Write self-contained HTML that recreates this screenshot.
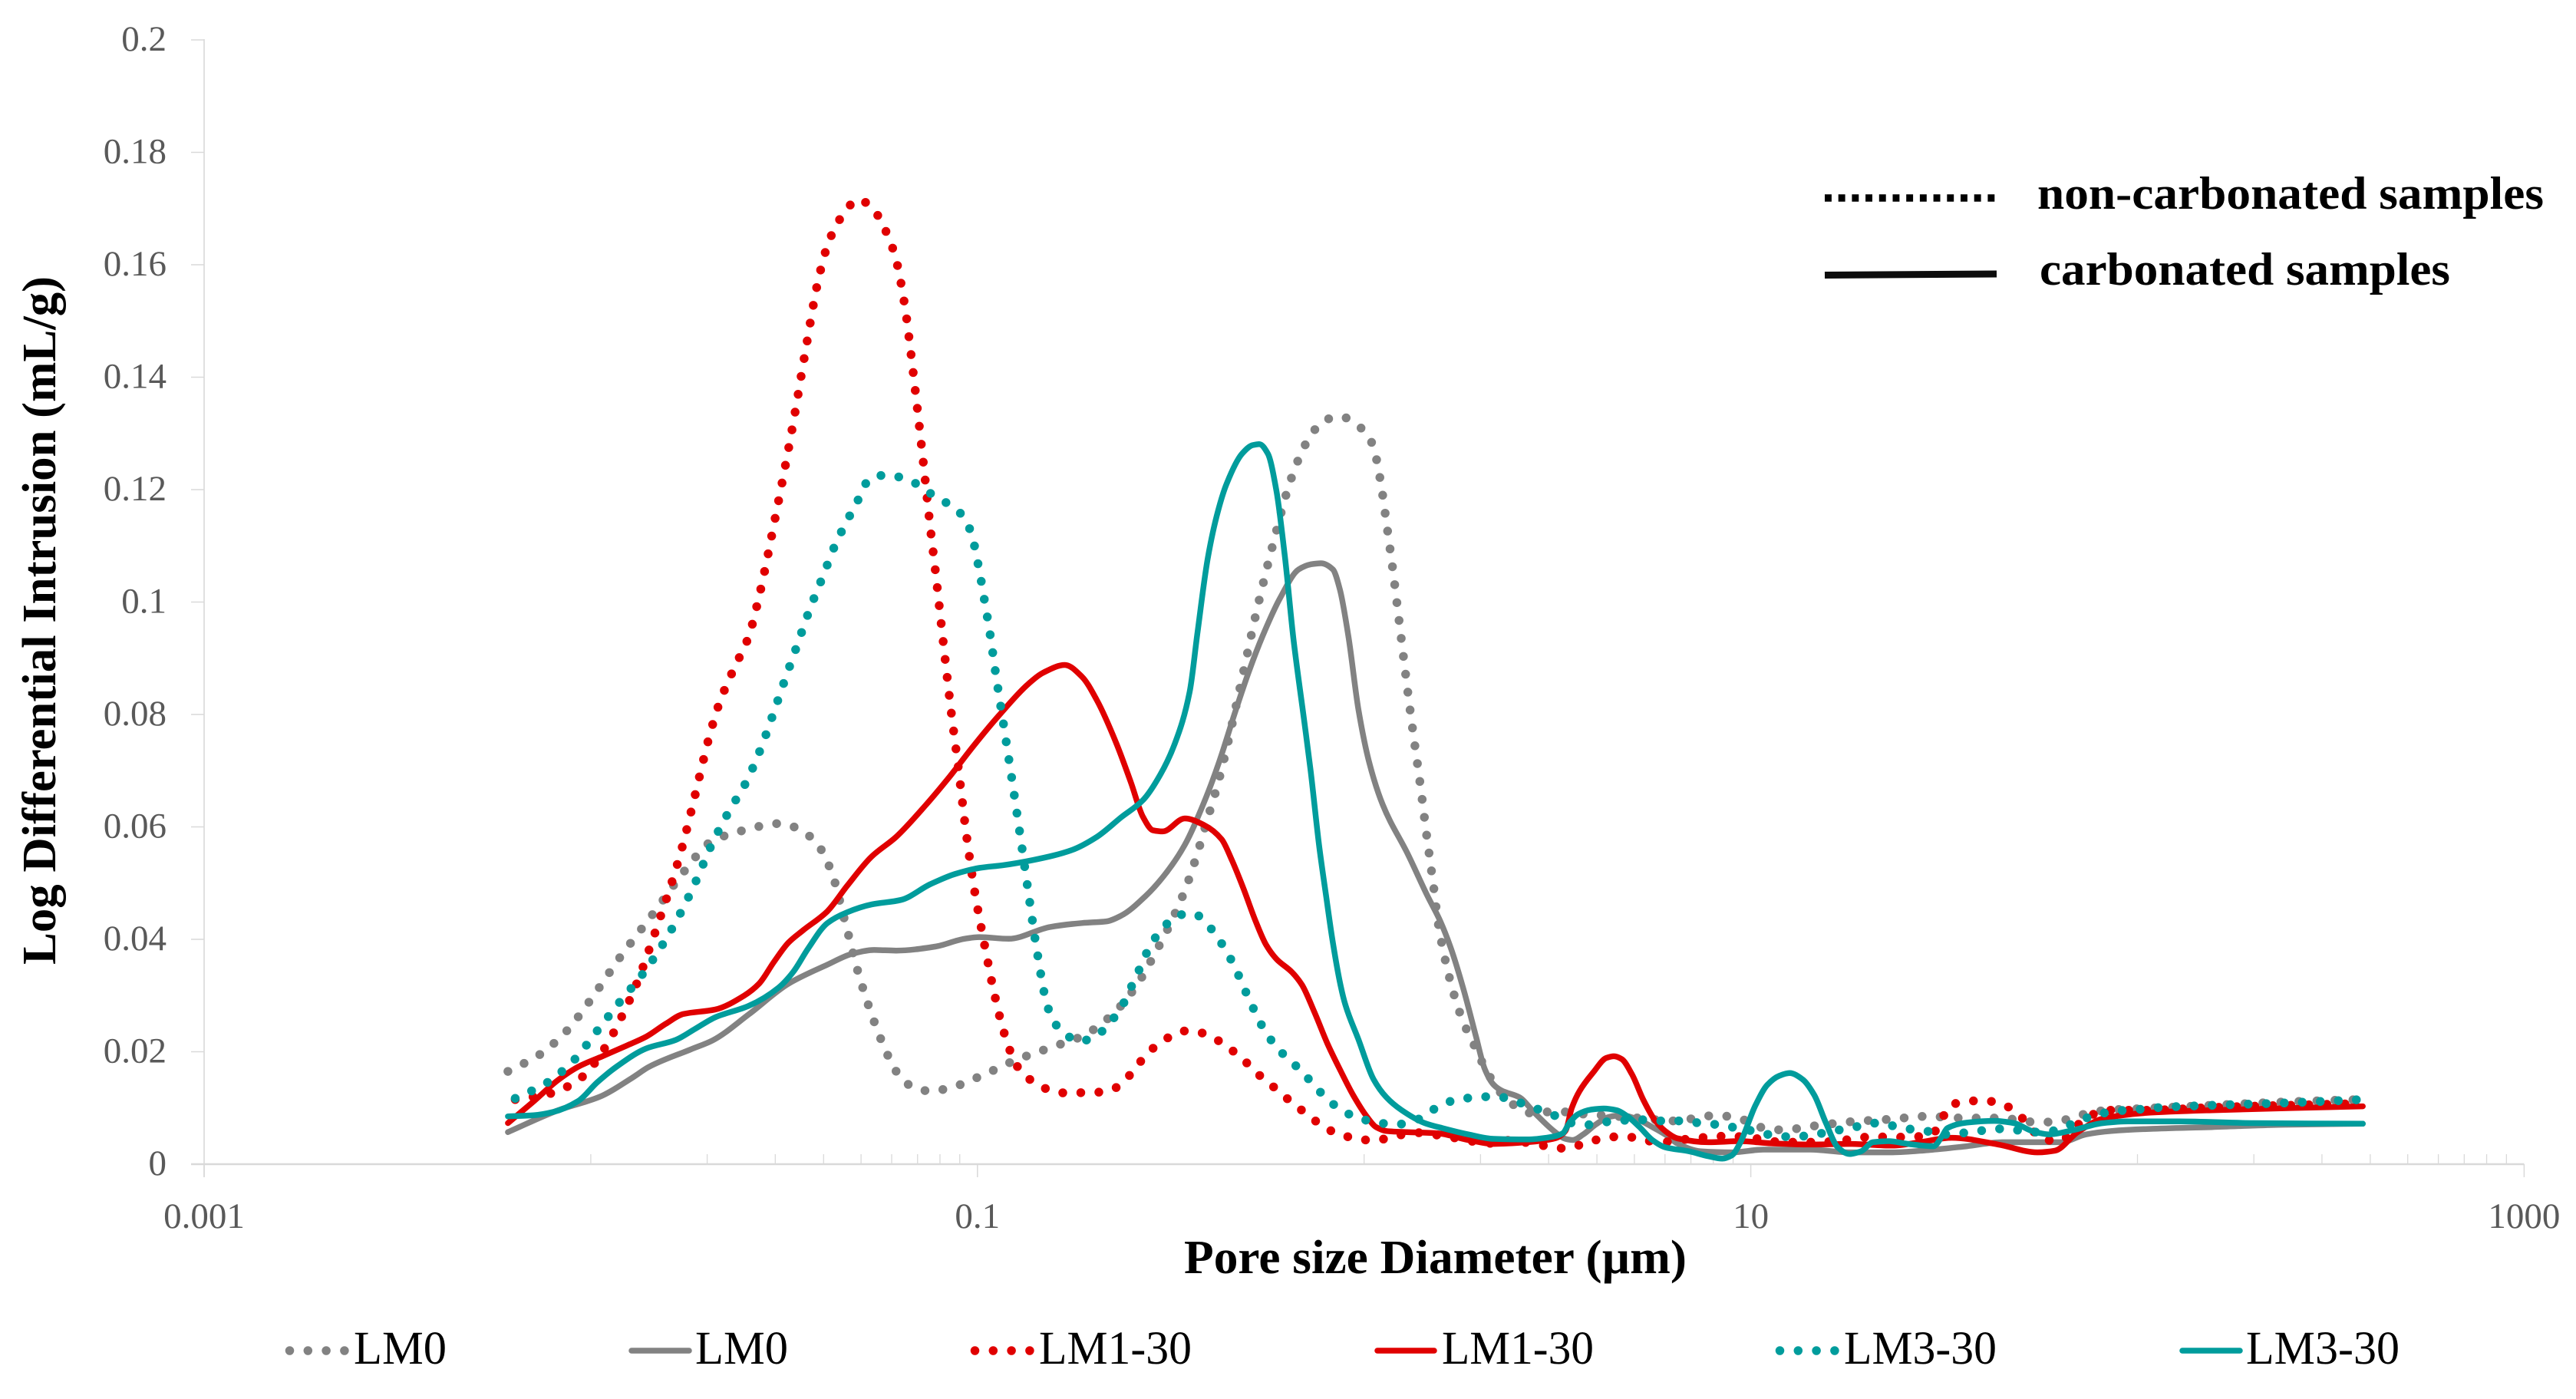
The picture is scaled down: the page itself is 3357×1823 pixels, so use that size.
<!DOCTYPE html>
<html lang="en">
<head>
<meta charset="utf-8">
<title>Log Differential Intrusion vs Pore Size Diameter</title>
<style>
html,body{margin:0;padding:0;background:#fff;}
svg{display:block;}
text{font-family:"Liberation Serif",serif;}
</style>
</head>
<body>
<svg id="chart" xmlns="http://www.w3.org/2000/svg" width="3357" height="1823" viewBox="0 0 3357 1823">
  <rect x="0" y="0" width="3357" height="1823" fill="#ffffff"/>
  <g id="axes"></g>
  <g id="series"></g>
  <text transform="translate(72,1257) rotate(-90)" font-size="62" font-weight="bold" fill="#000" textLength="897" lengthAdjust="spacingAndGlyphs">Log Differential Intrusion (mL/g)</text>
  <text x="1543" y="1659" font-size="62" font-weight="bold" fill="#000" textLength="655" lengthAdjust="spacingAndGlyphs">Pore size Diameter (µm)</text>
  <line x1="2378" y1="258" x2="2600" y2="258" stroke="#000" stroke-width="9.5" stroke-dasharray="8.9 8.8"/>
  <text x="2655" y="272" font-size="60" font-weight="bold" fill="#000" textLength="660" lengthAdjust="spacingAndGlyphs">non-carbonated samples</text>
  <line x1="2378" y1="358.5" x2="2602" y2="357" stroke="#0d0d0d" stroke-width="9"/>
  <text x="2658" y="371" font-size="60" font-weight="bold" fill="#000" textLength="535" lengthAdjust="spacingAndGlyphs">carbonated samples</text>
  <g id="legend"></g>
</svg>
<script>
// ---- Axis values ----
const yTickValues = [0, 0.02, 0.04, 0.06, 0.08, 0.1, 0.12, 0.14, 0.16, 0.18, 0.2];
const yTickLabels = ["0", "0.02", "0.04", "0.06", "0.08", "0.1", "0.12", "0.14", "0.16", "0.18", "0.2"];
const xTickValues = [0.001, 0.1, 10, 1000];
const xTickLabels = ["0.001", "0.1", "10", "1000"];
const xMinorDecades = [0.01, 1, 100];
const xMinorMultipliers = [1, 2, 3, 4, 5, 6, 7, 8, 9];

// ---- Series values: log10(diameter in µm) and log differential intrusion (mL/g) ----
const lm0DotLogD = [
-2.2144,-2.1321,-2.0612,-2.003,-1.9233,-1.8372,-1.7537,-1.6904,-1.6043,-1.5119,
-1.4271,-1.3802,-1.3423,-1.3068,-1.2625,-1.2258,-1.2018,-1.1663,-1.1207,-1.0752,
-.9878,-.9018,-.8131,-.7258,-.6498,-.5904,-.5423,-.4992,-.4625,-.4321,
-.4056,-.379,-.3562,-.3155,-.2756,-.2304,-.1932,-.1587,-.1356,-.1037,
-.0603,-.0187,.0132,.0292,.046,.0593,.0717,.0894,.1063,.124,
.1435,.1612,.1799,.1918,.2096,.2328,.2467,.2645,.2857,.3055,
.3274,.352,.3882,.4312,.4775,.5238,.5701,.6178,.7115,.8047,
.8978,.9444,.9899,1.0345,1.08,1.1742,1.2674,1.3616,1.4547,1.5489,
1.6431,1.736,1.7826,1.8292,1.8737,1.9214,2.0157,2.2033,2.3909,2.5807];
const lm0DotValues = [
.0165,.0195,.0238,.0290,.0369,.0447,.0525,.0573,.0594,.0606,
.0580,.0525,.0431,.0337,.0245,.0185,.0157,.0137,.0130,.0135,
.0158,.0185,.0207,.0229,.0267,.0316,.0373,.0431,.0489,.0551,
.0613,.0675,.0738,.0865,.0991,.1117,.1210,.1271,.1299,.1323,
.1330,.1315,.1293,.1262,.1199,.1133,.1071,.0973,.0877,.0781,
.0684,.0588,.0492,.0428,.0364,.0301,.0271,.0240,.0210,.0181,
.0153,.0128,.0105,.0091,.0093,.0093,.0089,.0087,.0082,.0077,
.0086,.0085,.0077,.0064,.0061,.0069,.0076,.0080,.0085,.0082,
.0082,.0075,.0075,.0082,.0091,.0096,.0099,.0105,.0111,.0115];

const lm0SolidLogD = [
-2.2144,-2.084,-1.9764,-1.8942,-1.8499,-1.7422,-1.6853,-1.5904,-1.489,-1.3879,
-1.3245,-1.2676,-1.2106,-1.1094,-1.0334,-.9954,-.9195,-.8118,-.7296,-.6663,
-.6284,-.5651,-.5144,-.4638,-.4132,-.3752,-.3332,-.2977,-.2623,-.218,
-.1693,-.1383,-.1117,-.0807,-.063,-.0408,-.0143,.0123,.0478,.1142,
.1633,.1964,.2229,.2559,.289,.3122,.3353,.3552,.4015,
.4411,.4941,.5205,.5404,.5668,.5999,.633,.6661,.7058,.7455,
.7851,.8097,.8705,.9515,1.0325,1.154,1.2552,1.3666,1.4578,1.559,
1.6503,1.7479,1.8021,1.8671,1.9322,2.0406,2.1925,2.3659,2.5828];
const lm0SolidValues = [
.0057,.0096,.0120,.0153,.0173,.0204,.0220,.0267,.0321,.0355,
.0374,.0381,.0380,.0387,.0401,.0404,.0401,.0422,.0429,.0432,
.0442,.0477,.0516,.0568,.0645,.0715,.0805,.0877,.0940,.1006,
.1058,.1067,.1069,.1058,.1023,.0940,.0807,.0717,.0640,.0550,
.0478,.0433,.0387,.0314,.0228,.0169,.0141,.0131,.0119,
.0091,.0057,.0045,.0043,.0053,.0071,.0084,.0087,.0080,.0066,
.0050,.0037,.0023,.0021,.0026,.0026,.0021,.0021,.0025,.0032,
.0039,.0039,.0039,.0053,.0059,.0063,.0066,.0070,.0072];

const lm1DotLogD = [
-2.1954,-2.103,-2.0207,-1.9625,-1.9182,-1.8802,-1.8473,-1.817,-1.7878,-1.7613,
-1.7385,-1.717,-1.6942,-1.6676,-1.6309,-1.5916,-1.5677,-1.5204,-1.4766,-1.4448,
-1.411,-1.3866,-1.3681,-1.343,-1.3092,-1.2715,-1.247,-1.2279,-1.2126,-1.2021,
-1.1862,-1.1743,-1.1525,-1.1372,-1.122,-1.1055,-1.0954,-1.0688,-1.0511,-1.0283,
-1.0081,-.9828,-.9549,-.9321,-.898,-.8651,-.8258,-.7803,-.6878,-.6423,
-.6081,-.5777,-.5461,-.5068,-.4625,-.417,-.3751,-.3368,-.3017,-.2673,
-.2316,-.1958,-.1595,-.1218,-.0814,-.037,.0099,.0562,.1018,.1481,
.1951,.2414,.287,.3353,.3816,.4292,.4742,.5205,.5662,.6118,
.6581,.7051,.7507,.7986,.8452,.8917,.9383,1.0325,1.078,1.1266,
1.1742,1.2198,1.2674,1.314,1.3605,1.4071,1.4547,1.4909,1.506,1.5505,
1.5965,1.6434,1.6842,1.7173,1.75,1.7958,1.8671,1.9214,2.019,2.2,2.58];
const lm1DotValues = [
.0115,.0126,.0156,.0208,.0265,.0323,.0385,.0446,.0507,.0570,
.0633,.0695,.0759,.0820,.0880,.0939,.1001,.1159,.1318,.1447,
.1575,.1637,.1666,.1694,.1716,.1701,.1674,.1645,.1615,.1583,
.1519,.1455,.1326,.1230,.1133,.1036,.0972,.0810,.0714,.0585,
.0489,.0394,.0299,.0236,.0175,.0151,.0135,.0127,.0128,.0136,
.0157,.0183,.0206,.0225,.0237,.0233,.0219,.0200,.0179,.0156,
.0136,.0115,.0095,.0075,.0058,.0048,.0043,.0045,.0053,.0056,
.0051,.0046,.0040,.0037,.0043,.0037,.0032,.0028,.0036,.0045,
.0049,.0047,.0040,.0040,.0046,.0048,.0050,.0044,.0039,.0039,
.0039,.0041,.0045,.0049,.0048,.0048,.0051,.0069,.0099,.0111,
.0113,.0109,.0093,.0071,.0046,.0041,.0082,.0096,.0096,.0101,.0108];

const lm1SolidLogD = [
-2.2144,-2.1473,-2.084,-2.0334,-1.97,-1.9068,-1.8562,-1.8056,-1.7612,-1.679,
-1.603,-1.565,-1.527,-1.489,-1.451,-1.388,-1.3372,-1.2739,-1.2106,-1.1347,
-1.0713,-1.008,-.9448,-.8689,-.8309,-.7739,-.7296,-.6916,-.641,-.6031,
-.5714,-.5461,-.5207,-.4638,-.4132,-.3686,-.3427,-.3129,-.2799,-.2534,
-.2269,-.1873,-.1608,-.1277,-.0946,-.0616,-.0285,.0046,.031,.0575,
.1104,.1898,.2692,.3353,.4213,.4941,.5205,.5371,.557,.5933,
.6264,.6462,.6661,.6925,.7223,.7521,.7785,.8097,.8907,.9718,
1.0527,1.154,1.2552,1.3666,1.4375,1.5194,1.64,1.7413,1.7865,1.8455,
1.9105,2.019,2.1925,2.5828];
const lm1SolidValues = [
.0073,.0112,.0150,.0173,.0192,.0211,.0227,.0250,.0267,.0275,
.0300,.0321,.0359,.0394,.0416,.0450,.0495,.0547,.0582,.0638,
.0690,.0746,.0798,.0854,.0874,.0888,.0867,.0826,.0749,.0679,
.0617,.0594,.0592,.0615,.0603,.0578,.0542,.0492,.0431,.0390,
.0365,.0342,.0319,.0269,.0214,.0167,.0123,.0087,.0066,.0059,
.0057,.0055,.0043,.0036,.0039,.0046,.0059,.0100,.0130,.0164,
.0189,.0192,.0187,.0160,.0114,.0078,.0059,.0046,.0039,.0041,
.0037,.0035,.0036,.0033,.0039,.0047,.0035,.0021,.0024,.0057,
.0081,.0091,.0096,.0103];

const lm3DotLogD = [
-2.1954,-2.1131,-2.0423,-1.9828,-1.9245,-1.865,-1.8131,-1.7663,-1.7258,-1.6891,
-1.6448,-1.598,-1.56,-1.5283,-1.498,-1.4663,-1.4355,-1.4007,-1.3659,-1.345,
-1.31,-1.2788,-1.2358,-1.1895,-1.147,-1.1088,-1.0671,-1.0334,-1.0155,-1.0043,
-.9957,-.9871,-.9798,-.9714,-.9511,-.9296,-.9081,-.8878,-.8676,-.8473,
-.822,-.8068,-.7764,-.7347,-.6916,-.6575,-.6296,-.5891,-.5486,-.5195,
-.4853,-.4419,-.4049,-.3758,-.3513,-.3301,-.3109,-.2918,-.2719,-.2481,
-.2183,-.1839,-.1509,-.1198,-.0874,-.0483,-.004,.041,.0879,.1336,
.1739,.2149,.2612,.3085,.3551,.4001,.4445,.4881,.5318,.5774,
.6231,.67,.717,.764,.8107,.8583,.9049,.9515,.9981,1.0436,
1.0912,1.1378,1.1844,1.23,1.2756,1.3221,1.3697,1.4163,1.4628,1.5089,
1.556,1.602,1.6491,1.6962,1.7428,1.7895,1.8322,1.8758,1.9214,1.968,
2.0157,2.0623,2.2033,2.3443,2.4852,2.5807];
const lm3DotValues = [
.0117,.0145,.0186,.0238,.0289,.0339,.0392,.0449,.0507,.0566,
.0625,.0680,.0740,.0801,.0862,.0923,.0984,.1044,.1105,.1134,
.1180,.1219,.1226,.1220,.1206,.1187,.1171,.1149,.1121,.1089,
.1057,.1025,.0994,.0961,.0865,.0769,.0672,.0577,.0480,.0385,
.0289,.0259,.0233,.0219,.0229,.0252,.0277,.0335,.0394,.0420,
.0442,.0446,.0426,.0400,.0373,.0344,.0314,.0285,.0256,.0228,
.0202,.0180,.0157,.0133,.0111,.0092,.0080,.0073,.0071,.0078,
.0095,.0110,.0117,.0120,.0119,.0110,.0099,.0088,.0074,.0070,
.0075,.0078,.0079,.0077,.0077,.0074,.0071,.0066,.0060,.0053,
.0049,.0050,.0055,.0061,.0067,.0073,.0068,.0062,.0058,.0053,
.0056,.0060,.0063,.0060,.0057,.0060,.0072,.0084,.0092,.0096,
.0098,.0101,.0105,.0108,.0112,.0115];

const lm3SolidLogD = [
-2.2144,-2.1473,-2.0967,-2.0334,-1.9828,-1.9322,-1.8562,-1.7803,-1.7296,-1.679,
-1.5904,-1.5144,-1.4764,-1.4385,-1.3879,-1.3372,-1.2739,-1.198,-1.122,-1.0587,
-.9954,-.9321,-.8562,-.7549,-.6917,-.6283,-.5714,-.5271,-.4891,-.4512,
-.4307,-.4041,-.3775,-.3553,-.3155,-.2889,-.2712,-.249,-.2269,-.2047,
-.1826,-.156,-.1383,-.1161,-.0979,-.081,-.06,-.0483,-.0153,.0244,
.0575,.0972,.1567,.203,.2692,.3353,.4213,.4808,.5139,.5304,
.5536,.5867,.6197,.6528,.6793,.7124,.7454,.7785,.8401,.8907,
.9262,.9515,.9718,1.0123,1.0426,1.073,1.1004,1.1337,1.1641,1.1945,
1.2249,1.2552,1.2856,1.316,1.3565,1.4071,1.4729,1.4932,1.5084,1.559,
1.6299,1.6805,1.7311,1.7716,1.8304,1.9105,1.9756,2.1057,2.3009,2.5828];
const lm3SolidValues = [
.0085,.0087,.0093,.0112,.0146,.0174,.0206,.0221,.0241,.0261,
.0282,.0314,.0342,.0383,.0429,.0448,.0462,.0470,.0498,.0516,
.0527,.0532,.0541,.0559,.0582,.0617,.0648,.0693,.0749,.0840,
.0947,.1079,.1163,.1211,.1264,.1279,.1281,.1264,.1198,.1079,
.0933,.0794,.0700,.0565,.0475,.0395,.0315,.0283,.0223,.0151,
.0119,.0096,.0073,.0064,.0053,.0045,.0044,.0048,.0055,.0073,
.0089,.0097,.0099,.0096,.0086,.0066,.0043,.0030,.0023,.0014,
.0010,.0016,.0037,.0105,.0141,.0157,.0162,.0151,.0123,.0073,
.0030,.0018,.0023,.0039,.0041,.0036,.0032,.0048,.0064,.0074,
.0077,.0073,.0058,.0053,.0060,.0073,.0076,.0076,.0073,.0072];

// ---- Axis functions ----
function xScale(logD){ return 266 + (logD + 3) * 503.9; }
function yScale(v){ return 1517 - v * 7325; }

const NS = "http://www.w3.org/2000/svg";
const axesG = document.getElementById("axes");
const seriesG = document.getElementById("series");
const legendG = document.getElementById("legend");
const AXIS = "#d9d9d9", TICKTXT = "#595959";

function svgLine(parent, x1, y1, x2, y2, color, w){
  const l = document.createElementNS(NS, "line");
  l.setAttribute("x1", x1);
  l.setAttribute("y1", y1);
  l.setAttribute("x2", x2);
  l.setAttribute("y2", y2);
  l.setAttribute("stroke", color);
  l.setAttribute("stroke-width", w);
  parent.appendChild(l);
  return l;
}
function svgText(parent, x, y, str, size, color, anchor){
  const t = document.createElementNS(NS, "text");
  t.setAttribute("x", x);
  t.setAttribute("y", y);
  t.setAttribute("font-size", size);
  t.setAttribute("fill", color);
  t.setAttribute("text-anchor", anchor);
  t.textContent = str;
  parent.appendChild(t);
  return t;
}

// axes
const yAxisLine = svgLine(axesG, xScale(-3), yScale(0.2) - 1, xScale(-3), yScale(0) + 17, AXIS, 1.6);


const xAxisLine = svgLine(axesG, 249, yScale(0), xScale(3), yScale(0), AXIS, 2.4);



yTickValues.forEach(function(v, i){
  const y = yScale(v);
  if (v !== 0) {
    const tick = svgLine(axesG, 249, y, xScale(-3), y, AXIS, 1.5);
    
    
  }
  const lab = svgText(axesG, 217, y + 14, yTickLabels[i], 47, TICKTXT, "end");
  
  
});
xTickValues.forEach(function(d, i){
  const x = xScale(Math.log10(d));
  const tick = svgLine(axesG, x, yScale(0), x, yScale(0) + 17, AXIS, 1.5);
  
  
  const lab = svgText(axesG, x, 1600, xTickLabels[i], 47, TICKTXT, "middle");
  
  
});
xMinorDecades.forEach(function(dec){
  xMinorMultipliers.forEach(function(m){
    const x = xScale(Math.log10(dec * m));
    const tick = svgLine(axesG, x, yScale(0) - 13, x, yScale(0), AXIS, 1.3);
    
    
  });
});

// monotone cubic path through points
function smoothPath(xs, ys){
  const n = xs.length, px = xs.map(xScale), py = ys.map(yScale);
  const s = [], h = [];
  for (let i = 0; i < n - 1; i++){
    h.push(px[i+1] - px[i]);
    s.push((py[i+1] - py[i]) / (px[i+1] - px[i]));
  }
  const m = new Array(n);
  m[0] = s[0]; m[n-1] = s[n-2];
  for (let i = 1; i < n - 1; i++){
    if (s[i-1] * s[i] <= 0) m[i] = 0;
    else {
      const w1 = 2*h[i] + h[i-1], w2 = h[i] + 2*h[i-1];
      m[i] = (w1 + w2) / (w1 / s[i-1] + w2 / s[i]);
    }
  }
  let d = "M" + px[0].toFixed(1) + " " + py[0].toFixed(1);
  for (let i = 0; i < n - 1; i++){
    const c = h[i] / 3;
    d += "C" + (px[i]+c).toFixed(1) + " " + (py[i]+m[i]*c).toFixed(1) + " " +
         (px[i+1]-c).toFixed(1) + " " + (py[i+1]-m[i+1]*c).toFixed(1) + " " +
         px[i+1].toFixed(1) + " " + py[i+1].toFixed(1);
  }
  return d;
}
function drawSeries(xs, ys, color, dotted){
  const p = document.createElementNS(NS, "path");
  p.setAttribute("d", smoothPath(xs, ys));
  p.setAttribute("fill", "none");
  p.setAttribute("stroke", color);
  p.setAttribute("stroke-linecap", "round");
  p.setAttribute("stroke-linejoin", "round");
  if (dotted){
    p.setAttribute("stroke-width", "11.5");
    p.setAttribute("stroke-dasharray", "0 23.5");
  } else {
    p.setAttribute("stroke-width", "7.5");
  }
  seriesG.appendChild(p);
  return p;
}
const GRAY = "#828282", RED = "#e00000", TEAL = "#009c9c";

const s1 = drawSeries(lm0DotLogD, lm0DotValues, GRAY, true);


const s2 = drawSeries(lm0SolidLogD, lm0SolidValues, GRAY, false);


const s3 = drawSeries(lm1DotLogD, lm1DotValues, RED, true);


const s4 = drawSeries(lm1SolidLogD, lm1SolidValues, RED, false);


const s5 = drawSeries(lm3DotLogD, lm3DotValues, TEAL, true);


const s6 = drawSeries(lm3SolidLogD, lm3SolidValues, TEAL, false);



// legend
function legendEntry(x1, x2, tx, tw, color, dotted, label){
  const g = document.createElementNS(NS, "g");
  const l = svgLine(g, x1, 1760, x2, 1760, color, dotted ? 11.5 : 7.5);
  l.setAttribute("stroke-linecap", "round");
  if (dotted) l.setAttribute("stroke-dasharray", "0 23.8");
  const t = svgText(g, tx, 1777, label, 61, "#000", "start");
  t.setAttribute("textLength", tw);
  t.setAttribute("lengthAdjust", "spacingAndGlyphs");
  legendG.appendChild(g);
  return g;
}
const e1 = legendEntry(377.5, 450, 461, 121, GRAY, true, "LM0");


const e2 = legendEntry(823, 898, 906, 121, GRAY, false, "LM0");


const e3 = legendEntry(1270.5, 1343, 1354, 199, RED, true, "LM1-30");


const e4 = legendEntry(1795, 1869, 1879, 198, RED, false, "LM1-30");


const e5 = legendEntry(2319.5, 2392, 2403, 199, TEAL, true, "LM3-30");


const e6 = legendEntry(2844, 2919, 2927, 200, TEAL, false, "LM3-30");


</script>
</body>
</html>
